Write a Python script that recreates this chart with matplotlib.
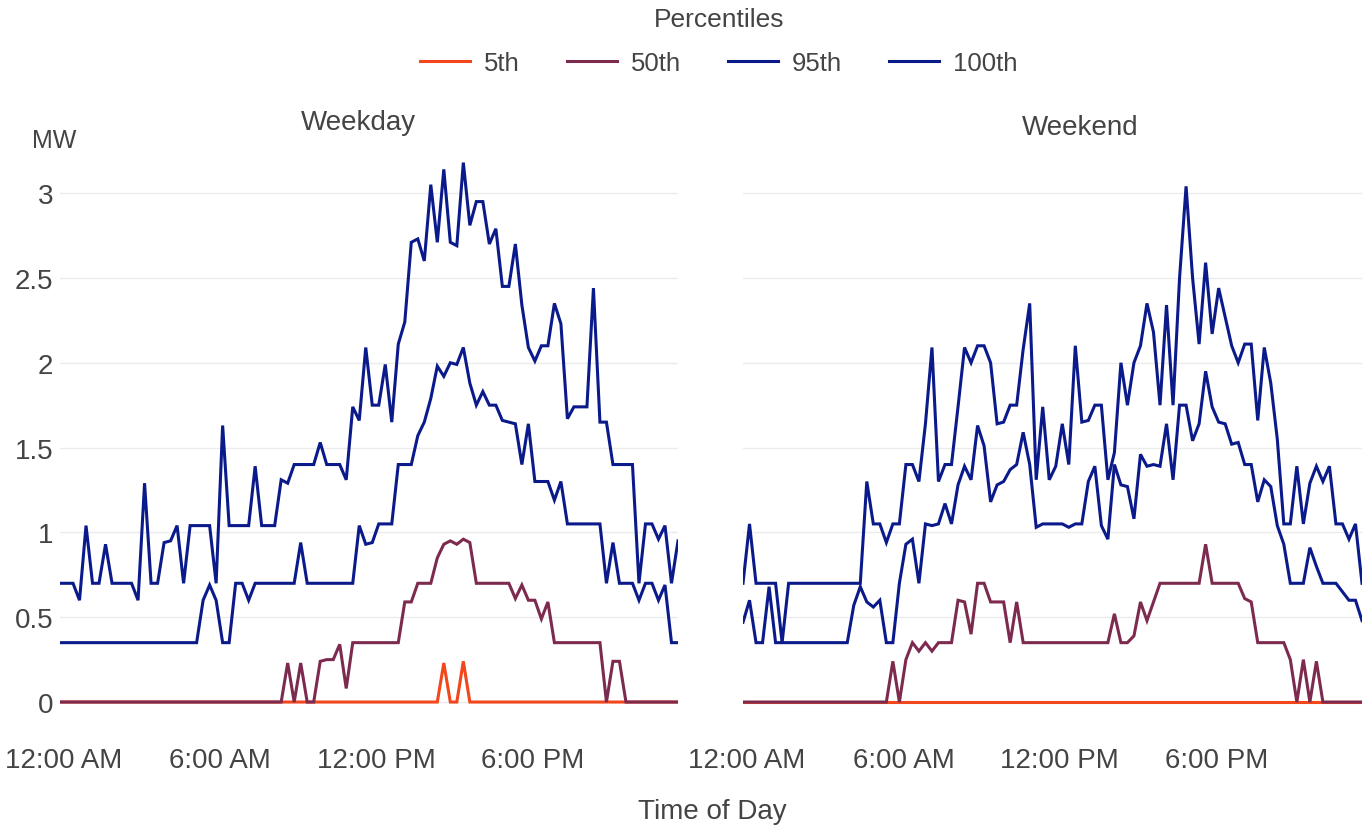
import matplotlib.pyplot as plt
import matplotlib.transforms as mtransforms

plt.rcParams['font.family'] = ['Liberation Sans', 'DejaVu Sans']

# 15-minute intervals, 96 per day
times = list(range(96))
tick_pos = [0, 24, 48, 72]
tick_labels = ["12:00 AM", "6:00 AM", "12:00 PM", "6:00 PM"]
percentiles = ["5th", "50th", "95th", "100th"]
colors = ["#f2461c", "#7d2a4f", "#0b1a8a", "#0b1a8a"]

# Weekday (MW)
wd_p5 = [0] * 59 + [0.23, 0, 0, 0.24] + [0] * 33
wd_p50 = ([0] * 35 + [0.23, 0, 0.23, 0, 0, 0.24, 0.25, 0.25, 0.34, 0.08]
          + [0.35] * 8 + [0.59, 0.59, 0.70, 0.70, 0.70, 0.85, 0.93, 0.95, 0.93, 0.96, 0.94]
          + [0.70] * 6 + [0.61, 0.69, 0.60, 0.60, 0.49, 0.59]
          + [0.35] * 8 + [0, 0.24, 0.24] + [0] * 9)
wd_p95 = ([0.35] * 22 + [0.60, 0.69, 0.60, 0.35, 0.35, 0.70, 0.70, 0.60, 0.70]
          + [0.70] * 6 + [0.94] + [0.70] * 8
          + [1.04, 0.93, 0.94, 1.05, 1.05, 1.05, 1.40, 1.40, 1.40, 1.57, 1.65, 1.79,
             1.98, 1.92, 2.00, 1.99, 2.09, 1.88, 1.75, 1.83, 1.75, 1.75, 1.66, 1.65,
             1.64, 1.40, 1.64, 1.30, 1.30, 1.30, 1.19, 1.30]
          + [1.05] * 6
          + [0.70, 0.94, 0.70, 0.70, 0.70, 0.60, 0.70, 0.70, 0.60, 0.69, 0.35, 0.35])
wd_p100 = [0.70, 0.70, 0.70, 0.60, 1.04, 0.70, 0.70, 0.93, 0.70, 0.70, 0.70, 0.70,
           0.60, 1.29, 0.70, 0.70, 0.94, 0.95, 1.04, 0.70, 1.04, 1.04, 1.04, 1.04,
           0.70, 1.63, 1.04, 1.04, 1.04, 1.04, 1.39, 1.04, 1.04, 1.04, 1.31, 1.29,
           1.40, 1.40, 1.40, 1.40, 1.53, 1.40, 1.40, 1.40, 1.31, 1.74, 1.66, 2.09,
           1.75, 1.75, 1.99, 1.65, 2.11, 2.24, 2.71, 2.73, 2.60, 3.05, 2.71, 3.14,
           2.71, 2.69, 3.18, 2.81, 2.95, 2.95, 2.70, 2.79, 2.45, 2.45, 2.70, 2.34,
           2.09, 2.01, 2.10, 2.10, 2.35, 2.23, 1.67, 1.74, 1.74, 1.74, 2.44, 1.65,
           1.65, 1.40, 1.40, 1.40, 1.40, 0.70, 1.05, 1.05, 0.96, 1.04, 0.70, 0.95]

# Weekend (MW)
we_p5 = [0] * 96
we_p50 = ([0] * 23 + [0.24, 0, 0.25, 0.35, 0.30, 0.35, 0.30, 0.35, 0.35, 0.35,
                      0.60, 0.59, 0.40, 0.70, 0.70, 0.59, 0.59, 0.59, 0.35, 0.59]
          + [0.35] * 14 + [0.52, 0.35, 0.35, 0.39, 0.59, 0.48, 0.59]
          + [0.70] * 7 + [0.93] + [0.70] * 5 + [0.61, 0.59]
          + [0.35] * 5 + [0.25, 0, 0.25, 0, 0.24] + [0] * 7)
we_p95 = ([0.47, 0.60, 0.35, 0.35, 0.68] + [0.35] * 12
          + [0.57, 0.68, 0.59, 0.56, 0.60, 0.35, 0.35, 0.70, 0.93, 0.96, 0.70, 1.05,
             1.04, 1.05, 1.17, 1.05, 1.28, 1.39, 1.31, 1.63, 1.51, 1.18, 1.28, 1.30,
             1.37, 1.40, 1.59, 1.40, 1.03, 1.05, 1.05, 1.05, 1.05, 1.03, 1.05, 1.05,
             1.30, 1.39, 1.04, 0.96, 1.40, 1.28, 1.27, 1.08, 1.46, 1.39, 1.40, 1.39,
             1.64, 1.31, 1.75, 1.75, 1.54, 1.64, 1.95, 1.74, 1.65, 1.64, 1.52, 1.53,
             1.40, 1.40, 1.18, 1.31, 1.27, 1.04, 0.93, 0.70, 0.70, 0.70, 0.91, 0.80,
             0.70, 0.70, 0.70, 0.65, 0.60, 0.60, 0.48])
we_p100 = ([0.70, 1.05, 0.70, 0.70, 0.70, 0.70, 0.35] + [0.70] * 12
           + [1.30, 1.05, 1.05, 0.94, 1.05, 1.05, 1.40, 1.40, 1.30, 1.64, 2.09, 1.30,
              1.40, 1.40, 1.74, 2.09, 2.00, 2.10, 2.10, 2.00, 1.64, 1.65, 1.75, 1.75,
              2.08, 2.35, 1.31, 1.74, 1.31, 1.39, 1.64, 1.40, 2.10, 1.65, 1.66, 1.75,
              1.75, 1.31, 1.47, 2.00, 1.75, 2.00, 2.10, 2.35, 2.18, 1.75, 2.34, 1.75,
              2.50, 3.04, 2.50, 2.11, 2.59, 2.17, 2.44, 2.27, 2.10, 2.00, 2.11, 2.11,
              1.66, 2.09, 1.88, 1.55, 1.05, 1.05, 1.39, 1.05, 1.29, 1.39, 1.30, 1.39,
              1.05, 1.05, 0.96, 1.05, 0.70])

W, H = 1367, 829
fig = plt.figure(figsize=(W / 100, H / 100), dpi=100)
ax1 = fig.add_axes([60 / W, (H - 720) / H, 618 / W, 570 / H])
ax2 = fig.add_axes([743 / W, (H - 720) / H, 619 / W, 570 / H], sharey=ax1)

shift = mtransforms.ScaledTranslation(4 / 100, 0, fig.dpi_scale_trans)

panels = [(ax1, [wd_p5, wd_p50, wd_p95, wd_p100]),
          (ax2, [we_p5, we_p50, we_p95, we_p100])]
for ax, series in panels:
    for name, vals, c in zip(percentiles, series, colors):
        ax.plot(times, vals, color=c, lw=2.2, label=name, solid_joinstyle='miter')
    ax.set_xlim(0, 95)
    ax.set_ylim(-0.1, 3.26)
    ax.set_yticks([0, 0.5, 1, 1.5, 2, 2.5, 3])
    ax.set_yticklabels(["0", "0.5", "1", "1.5", "2", "2.5", "3"])
    ax.set_xticks(tick_pos)
    ax.set_xticklabels(tick_labels)
    ax.grid(axis='y', color='#ebebeb', lw=1)
    ax.set_axisbelow(True)
    for s in ax.spines.values():
        s.set_visible(False)
    ax.tick_params(length=0, labelsize=20, labelcolor='#444444')
    ax.tick_params(axis='x', pad=20)
    ax.tick_params(axis='y', pad=5)
    for lbl in ax.get_xticklabels():
        lbl.set_transform(lbl.get_transform() + shift)

ax2.tick_params(axis='y', labelleft=False)

fig.text(358 / W, 1 - 123 / H, "Weekday", ha='center', va='center', fontsize=20, color='#444444')
fig.text(1080 / W, 1 - 128 / H, "Weekend", ha='center', va='center', fontsize=20, color='#444444')
fig.text(54 / W, 1 - 141 / H, "MW", ha='center', va='center', fontsize=18, color='#444444')
fig.text(712 / W, 1 - 812 / H, "Time of Day", ha='center', va='center', fontsize=20, color='#444444')

handles, labels = ax1.get_legend_handles_labels()
leg = fig.legend(handles, labels, loc='upper center', bbox_to_anchor=(719 / W, 1 + 5 / H),
                 ncol=4, frameon=False, fontsize=18.5, title="Percentiles",
                 title_fontsize=19, handlelength=1.95, handletextpad=0.55,
                 columnspacing=1.82, borderpad=0, labelspacing=0.8)
for t in leg.get_texts():
    t.set_color('#444444')
leg.get_title().set_color('#444444')

fig.savefig("out.png", dpi=100, facecolor='white')
